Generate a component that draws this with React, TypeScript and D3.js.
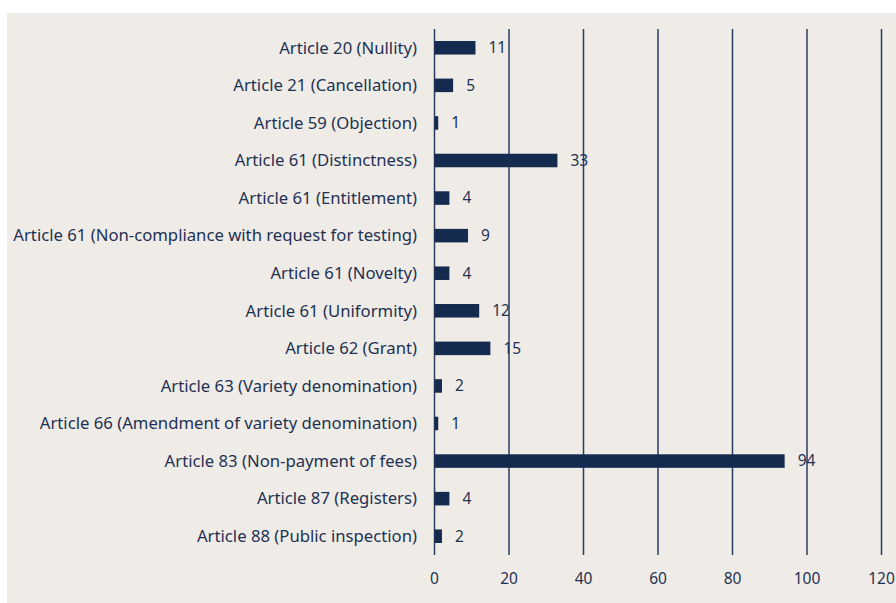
import { useEffect, useRef } from 'react';
import * as d3 from 'd3';

const categories = [
  'Article 20 (Nullity)',
  'Article 21 (Cancellation)',
  'Article 59 (Objection)',
  'Article 61 (Distinctness)',
  'Article 61 (Entitlement)',
  'Article 61 (Non-compliance with request for testing)',
  'Article 61 (Novelty)',
  'Article 61 (Uniformity)',
  'Article 62 (Grant)',
  'Article 63 (Variety denomination)',
  'Article 66 (Amendment of variety denomination)',
  'Article 83 (Non-payment of fees)',
  'Article 87 (Registers)',
  'Article 88 (Public inspection)',
];
const values = [11, 5, 1, 33, 4, 9, 4, 12, 15, 2, 1, 94, 4, 2];
const tickValues = [0, 20, 40, 60, 80, 100, 120];

const navy = '#142b4f';
const textColor = '#1e3254';

export default function App() {
  const ref = useRef<SVGSVGElement>(null);

  useEffect(() => {
    const svg = d3.select(ref.current);
    svg.selectAll('*').remove();

    svg
      .append('rect')
      .attr('x', 7)
      .attr('y', 13)
      .attr('width', 889)
      .attr('height', 590)
      .attr('fill', '#efebe7');

    const x = d3.scaleLinear().domain([0, 120]).range([434.5, 881.5]);
    const y = d3
      .scaleBand()
      .domain(categories)
      .range([29, 555])
      .paddingInner(0.64)
      .paddingOuter(0.32);

    const font = "'Noto Sans', sans-serif";
    const fontSize = '16.7px';

    svg
      .append('g')
      .selectAll('line')
      .data(tickValues)
      .enter()
      .append('line')
      .attr('x1', d => x(d))
      .attr('x2', d => x(d))
      .attr('y1', 29)
      .attr('y2', 555)
      .attr('stroke', '#2a3d5e')
      .attr('stroke-width', 1.5);

    svg
      .append('g')
      .selectAll('text')
      .data(tickValues)
      .enter()
      .append('text')
      .attr('x', d => x(d))
      .attr('y', 579)
      .attr('dy', '0.35em')
      .attr('text-anchor', 'middle')
      .style('font-family', font)
      .style('font-size', '15.5px')
      .attr('fill', textColor)
      .text(d => d);

    const rows = categories.map((c, i) => ({ c, v: values[i] }));

    svg
      .append('g')
      .selectAll('rect')
      .data(rows)
      .enter()
      .append('rect')
      .attr('x', x(0))
      .attr('y', d => y(d.c)!)
      .attr('width', d => x(d.v) - x(0))
      .attr('height', y.bandwidth())
      .attr('fill', navy);

    svg
      .append('g')
      .selectAll('text')
      .data(rows)
      .enter()
      .append('text')
      .attr('x', 417)
      .attr('y', d => y(d.c)! + y.bandwidth() / 2)
      .attr('dy', '0.35em')
      .attr('text-anchor', 'end')
      .style('font-family', font)
      .style('font-size', fontSize)
      .attr('fill', textColor)
      .text(d => d.c);

    svg
      .append('g')
      .selectAll('text')
      .data(rows)
      .enter()
      .append('text')
      .attr('x', d => x(d.v) + 13)
      .attr('y', d => y(d.c)! + y.bandwidth() / 2)
      .attr('dy', '0.35em')
      .style('font-family', font)
      .style('font-size', '15.5px')
      .attr('fill', textColor)
      .text(d => d.v);
  }, []);

  return (
    <svg
      ref={ref}
      width={896}
      height={603}
      style={{ position: 'absolute', left: 0, top: 0 }}
    />
  );
}
